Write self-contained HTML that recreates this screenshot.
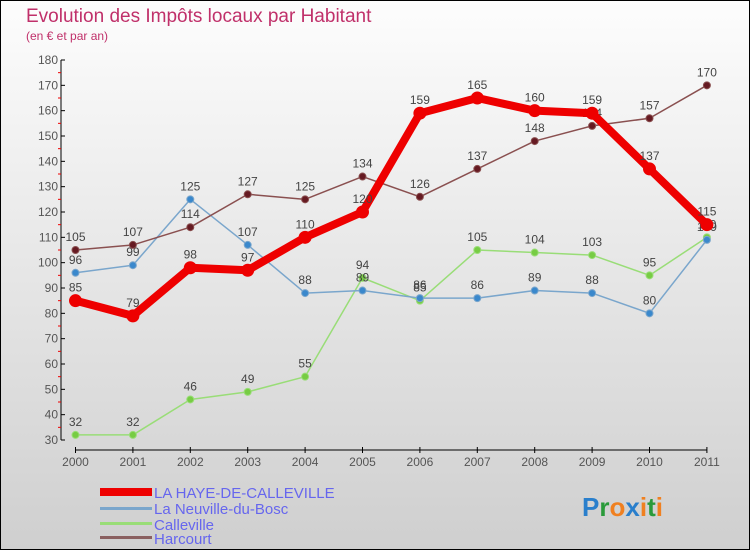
<!DOCTYPE html>
<html><head><meta charset="utf-8"><style>
body{margin:0}
#c{width:750px;height:550px;position:relative;font-family:"Liberation Sans",sans-serif}
</style></head><body>
<div id="c">
<svg id="s" width="750" height="550" xmlns="http://www.w3.org/2000/svg">
<defs><linearGradient id="bg" x1="0" y1="0" x2="0" y2="1"><stop offset="0" stop-color="#fdfdfd"/><stop offset="1" stop-color="#cfcfcf"/></linearGradient></defs>
<rect x="0.5" y="0.5" width="749" height="549" fill="url(#bg)" stroke="#000"/>
<text x="26" y="22" font-size="19" fill="#c0306a">Evolution des Impôts locaux par Habitant</text>
<text x="26" y="40" font-size="12" fill="#c0306a">(en € et par an)</text>
<g id="axes"></g><g id="series"></g>
<g>
<rect x="100" y="488" width="52" height="8" fill="#e00"/>
<text x="154" y="498" font-size="15" fill="#6666ee">LA HAYE-DE-CALLEVILLE</text>
<rect x="100" y="507" width="52" height="3" fill="#7aa6cc"/>
<text x="154" y="514" font-size="15" fill="#6666ee">La Neuville-du-Bosc</text>
<rect x="100" y="522" width="52" height="3" fill="#99dd77"/>
<text x="154" y="530" font-size="15" fill="#6666ee">Calleville</text>
<rect x="100" y="536" width="52" height="3" fill="#8a6060"/>
<text x="154" y="544" font-size="15" fill="#6666ee">Harcourt</text>
</g>
<text x="582" y="516" font-size="26" font-weight="bold"><tspan fill="#2a7fcc">P</tspan><tspan fill="#2a9a3a">r</tspan><tspan fill="#f08020">o</tspan><tspan fill="#2a7fcc">x</tspan><tspan fill="#f08020">i</tspan><tspan fill="#2a9a3a">t</tspan><tspan fill="#f08020">i</tspan></text>
</svg>
</div>
<script>
const years=["2000","2001","2002","2003","2004","2005","2006","2007","2008","2009","2010","2011"];
const yTicks=[30,40,50,60,70,80,90,100,110,120,130,140,150,160,170,180];
const laHaye=[85,79,98,97,110,120,159,165,160,159,137,115];
const neuville=[96,99,125,107,88,89,86,86,89,88,80,109];
const calleville=[32,32,46,49,55,94,85,105,104,103,95,110];
const harcourt=[105,107,114,127,125,134,126,137,148,154,157,170];
const NS="http://www.w3.org/2000/svg";
const X=i=>75.5+i*57.4;
const Y=v=>440-(v-30)*380/150;
function mk(t,a,p){const e=document.createElementNS(NS,t);for(const k in a)e.setAttribute(k,a[k]);p.appendChild(e);return e;}
const ax=document.getElementById('axes');
let l=mk('line',{x1:61,y1:Y(180),x2:61,y2:440,stroke:'#000'},ax);


l=mk('line',{x1:X(0),y1:450,x2:X(11),y2:450,stroke:'#000'},ax);


yTicks.forEach((v,i)=>{
  mk('line',{x1:61,y1:Y(v),x2:65,y2:Y(v),stroke:'#000'},ax);
  if(i<yTicks.length-1)mk('line',{x1:58,y1:Y(v+5),x2:61,y2:Y(v+5),stroke:'#e00'},ax);
  const t=mk('text',{x:58,y:Y(v)+4,'font-size':12,fill:'#555','text-anchor':'end'},ax);
  t.textContent=v;
  
  
});
years.forEach((y,i)=>{
  mk('line',{x1:X(i),y1:447,x2:X(i),y2:453,stroke:'#000'},ax);
  const t=mk('text',{x:X(i),y:466,'font-size':12,fill:'#555','text-anchor':'middle'},ax);
  t.textContent=y;
  
  
});
const sg=document.getElementById('series');
function draw(name,vals,col,w,r,dot){
  const g=mk('g',{},sg);
  
  
  const p=mk('polyline',{points:vals.map((v,i)=>X(i)+','+Y(v)).join(' '),fill:'none',stroke:col,'stroke-width':w,'stroke-linejoin':'round'},g);
  
  
  vals.forEach((v,i)=>{
    const c=mk('circle',{cx:X(i),cy:Y(v),r:r,fill:dot,stroke:col,'stroke-width':1},g);
    
    
    const t=mk('text',{x:X(i),y:Y(v)-9,'font-size':12,fill:'#444','text-anchor':'middle'},g);
    t.textContent=v;
    
    
  });
}
draw('calleville',calleville,'#99dd77',1.5,3.5,'#77cc44');
draw('neuville',neuville,'#7aa6cc',1.5,3.5,'#3a88cc');
draw('harcourt',harcourt,'#8a5050',1.5,3.5,'#661a22');
draw('la-haye',laHaye,'#ee0000',8,6,'#ee0000');
</script>
</body></html>
